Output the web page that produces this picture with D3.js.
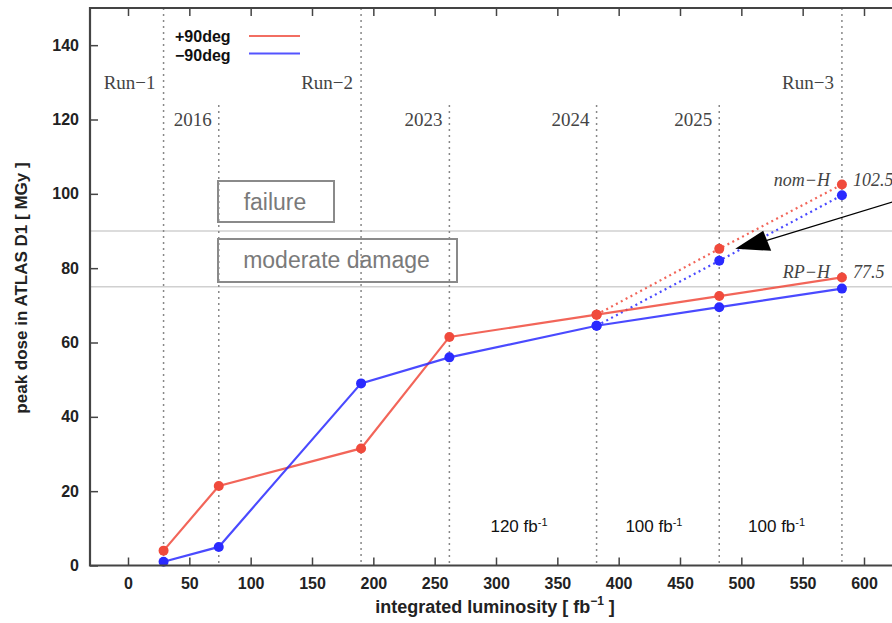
<!DOCTYPE html>
<html>
<head>
<style>
body { margin: 0; background: #fff; }
text { font-family: "Liberation Sans", Arial, sans-serif; }
.serif { font-family: "Liberation Serif", "Times New Roman", serif; fill: #444; }
</style>
</head>
<body>
<script src="https://d3js.org/d3.v7.min.js"></script>
<script>
// luminosity points (fb^-1) and peak dose (MGy)
var lumi = [29, 74, 190, 262, 382, 482, 582];
var plus90 = [4, 21.4, 31.5, 61.5, 67.5, 72.5, 77.5];
var minus90 = [1, 5, 49, 56, 64.5, 69.5, 74.5];

// nominal-H extrapolation (dotted)
var lumiNom = [382, 482, 582];
var plus90Nom = [67.5, 85.2, 102.5];
var minus90Nom = [64.5, 82, 99.6];

// period markers
var runEdges = [29, 190, 582];
var runLabels = ["Run\u22121", "Run\u22122", "Run\u22123"];
var yearEdges = [74, 262, 382, 482];
var yearLabels = ["2016", "2023", "2024", "2025"];
var lumiSteps = ["120", "100", "100"];

// damage thresholds
var thresholds = [90, 75];
var thresholdLabels = ["failure", "moderate damage"];

var xTicks = d3.range(0, 601, 50);
var yTicks = d3.range(0, 141, 20);

var width = 892, height = 623;
var plotLeft = 90, plotTop = 8, plotRight = 940;

var svg = d3.select("body").append("svg")
	.attr("width", width)
	.attr("height", height);

var x = d3.scaleLinear().domain([0, 600]).range([128, 864]);
var y = d3.scaleLinear().domain([0, 150]).range([565.5, plotTop]);
var y0 = y(0);

var red = "#f04a3c", blue = "#2a2aff";

// threshold lines
svg.selectAll(".thr").data(thresholds).enter().append("line")
	.attr("x1", plotLeft).attr("x2", plotRight)
	.attr("y1", function(d) { return y(d); })
	.attr("y2", function(d) { return y(d); })
	.style("stroke", "#d0d0d0").style("stroke-width", 1.5);

// vertical dotted lines: runs go full height, years start lower
svg.selectAll(".run").data(runEdges).enter().append("line")
	.attr("x1", function(d) { return x(d); })
	.attr("x2", function(d) { return x(d); })
	.attr("y1", plotTop).attr("y2", y0)
	.style("stroke", "#888").style("stroke-width", 1.5)
	.style("stroke-dasharray", "2,4");

svg.selectAll(".yr").data(yearEdges).enter().append("line")
	.attr("x1", function(d) { return x(d); })
	.attr("x2", function(d) { return x(d); })
	.attr("y1", 105).attr("y2", y0)
	.style("stroke", "#888").style("stroke-width", 1.5)
	.style("stroke-dasharray", "2,4");

svg.selectAll(".runlab").data(runEdges).enter().append("text")
	.attr("class", "serif")
	.attr("x", function(d) { return x(d) - 8; })
	.attr("y", 89)
	.attr("text-anchor", "end")
	.style("font-size", "19px")
	.text(function(d, i) { return runLabels[i]; });

svg.selectAll(".yrlab").data(yearEdges).enter().append("text")
	.attr("class", "serif")
	.attr("x", function(d) { return x(d) - 7; })
	.attr("y", 126)
	.attr("text-anchor", "end")
	.style("font-size", "19px")
	.text(function(d, i) { return yearLabels[i]; });

// threshold boxes
var boxes = [[218, 181, 116, 41, 210], [218, 239, 239, 43, 268]];
boxes.forEach(function(b, i) {
	svg.append("rect")
		.attr("x", b[0]).attr("y", b[1])
		.attr("width", b[2]).attr("height", b[3])
		.style("fill", "none").style("stroke", "#8a8a8a").style("stroke-width", 2);
	svg.append("text")
		.attr("x", b[0] + b[2] / 2 - 1).attr("y", b[4])
		.attr("text-anchor", "middle")
		.style("font-size", "23px").style("fill", "#7a7a7a")
		.text(thresholdLabels[i]);
});

// luminosity per year labels
var steps = d3.pairs(yearEdges.slice(1).concat([582]));
svg.selectAll(".step").data(steps).enter().append("text")
	.attr("x", function(d) { return x((d[0] + d[1]) / 2) - 4; })
	.attr("y", 532)
	.attr("text-anchor", "middle")
	.style("font-size", "17px").style("fill", "#111")
	.each(function(d, i) {
		var t = d3.select(this);
		t.append("tspan").text(lumiSteps[i] + " fb");
		t.append("tspan").attr("dy", -6).style("font-size", "11px").text("-1");
	});

// series
var line = d3.line()
	.x(function(d) { return x(d[0]); })
	.y(function(d) { return y(d[1]); });

function series(xs, ys, color, dotted) {
	var pts = xs.map(function(v, i) { return [v, ys[i]]; });
	svg.append("path")
		.attr("d", line(pts))
		.style("fill", "none").style("stroke", color)
		.style("stroke-width", 2.2)
		.style("stroke-dasharray", dotted ? "2,3.5" : null)
		.style("opacity", 0.85);
	svg.append("g").selectAll("circle").data(pts).enter().append("circle")
		.attr("cx", function(d) { return x(d[0]); })
		.attr("cy", function(d) { return y(d[1]); })
		.attr("r", 5)
		.style("fill", color);
}

series(lumiNom, plus90Nom, red, true);
series(lumiNom, minus90Nom, blue, true);
series(lumi, plus90, red, false);
series(lumi, minus90, blue, false);

// end-point annotations
var ann = [["nom\u2212H", plus90Nom[2], 186], ["RP\u2212H", plus90[6], 278]];
ann.forEach(function(a) {
	svg.append("text").attr("class", "serif")
		.attr("x", x(582) - 12).attr("y", a[2])
		.attr("text-anchor", "end")
		.style("font-size", "18px").style("font-style", "italic")
		.text(a[0]);
	svg.append("text").attr("class", "serif")
		.attr("x", x(582) + 11).attr("y", a[2])
		.style("font-size", "18px").style("font-style", "italic")
		.text(a[1]);
});

// arrow
var tip = [x(495), y(85.2)];
var tail = [x(650), y(100.5)];
svg.append("line")
	.attr("x1", tail[0]).attr("y1", tail[1])
	.attr("x2", tip[0] + 30).attr("y2", tip[1] - 8)
	.style("stroke", "#000").style("stroke-width", 1.2);
svg.append("path")
	.attr("d", "M" + tip[0] + "," + tip[1] + " L" + (tip[0] + 28) + "," + (tip[1] - 18) +
		" L" + (tip[0] + 36) + "," + (tip[1] + 2) + " Z")
	.style("fill", "#000");

// axes
var fontAxis = function(g) {
	g.select(".domain").remove();
	g.selectAll("line").style("stroke", "#444").style("stroke-width", 1.5);
	g.selectAll("text").style("font-size", "16px").style("font-weight", "bold")
		.style("fill", "#222").style("font-family", "'Liberation Sans', Arial, sans-serif");
};

svg.append("g").attr("transform", "translate(0," + y0 + ")")
	.call(d3.axisBottom(x).tickValues(xTicks).tickSizeInner(-8).tickSizeOuter(0).tickPadding(12))
	.call(fontAxis);

svg.append("g").attr("transform", "translate(0," + plotTop + ")")
	.call(d3.axisTop(x).tickValues(xTicks).tickSizeInner(-8).tickSizeOuter(0).tickFormat(""))
	.call(fontAxis);

svg.append("g").attr("transform", "translate(" + plotLeft + ",0)")
	.call(d3.axisLeft(y).tickValues(yTicks).tickSizeInner(-8).tickSizeOuter(0).tickPadding(11))
	.call(fontAxis);

// frame
svg.append("path")
	.attr("d", "M" + plotRight + "," + plotTop + " L" + plotLeft + "," + plotTop +
		" L" + plotLeft + "," + y0 + " L" + plotRight + "," + y0)
	.style("fill", "none").style("stroke", "#444").style("stroke-width", 2.2);

// legend
var legend = [["+90deg", red], ["\u221290deg", blue]];
legend.forEach(function(l, i) {
	svg.append("text")
		.attr("x", 175).attr("y", 42 + i * 18.5)
		.style("font-size", "16px").style("font-weight", "bold").style("fill", "#111")
		.text(l[0]);
	svg.append("line")
		.attr("x1", 249).attr("x2", 300)
		.attr("y1", 36 + i * 17.5).attr("y2", 36 + i * 17.5)
		.style("stroke", l[1]).style("stroke-width", 2).style("opacity", 0.8);
});

// axis titles
var xt = svg.append("text")
	.attr("x", 495).attr("y", 613)
	.attr("text-anchor", "middle")
	.style("font-size", "18px").style("font-weight", "bold").style("fill", "#222");
xt.append("tspan").text("integrated luminosity [ fb");
xt.append("tspan").attr("dy", -8).style("font-size", "12px").text("\u22121");
xt.append("tspan").attr("dy", 8).text(" ]");

svg.append("text")
	.attr("transform", "translate(27,288) rotate(-90)")
	.attr("text-anchor", "middle")
	.style("font-size", "17px").style("font-weight", "bold").style("fill", "#222")
	.text("peak dose in ATLAS D1 [ MGy ]");
</script>
</body>
</html>
